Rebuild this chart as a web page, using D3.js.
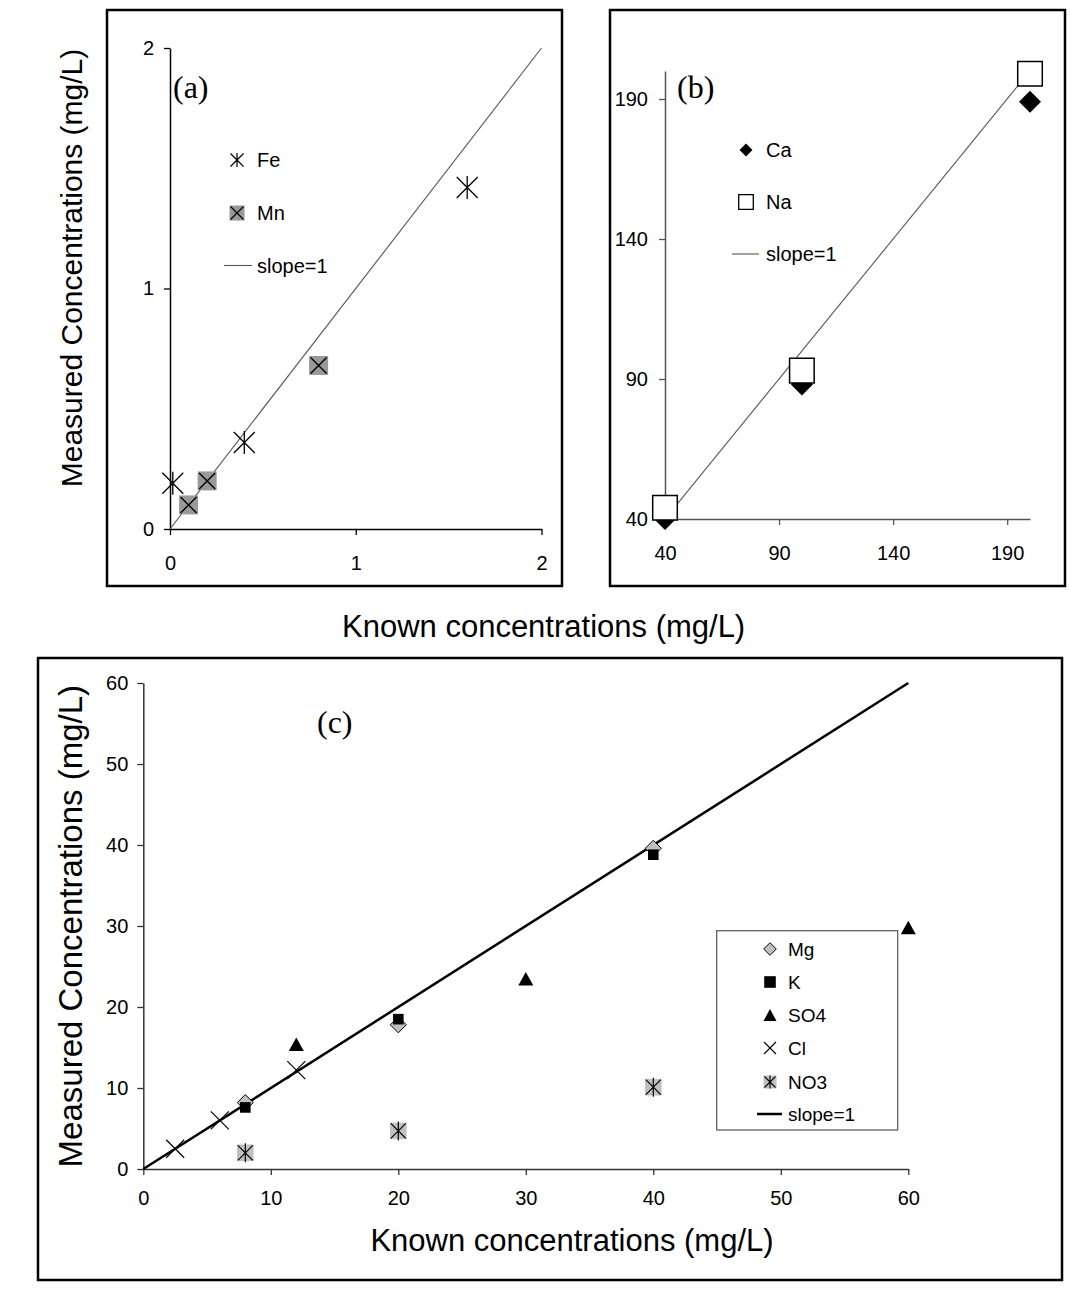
<!DOCTYPE html>
<html>
<head>
<meta charset="utf-8">
<script src="https://cdn.jsdelivr.net/npm/d3@7"></script>
<style>
  body { margin: 0; background: #fff; }
  text { font-family: "Liberation Sans", Arial, sans-serif; fill: #000; }
  .serif { font-family: "Liberation Serif", "Times New Roman", serif; }
</style>
</head>
<body>
<svg id="chart" width="1071" height="1289"></svg>
<script>
// ---- Panel (a): Fe and Mn ----
const feKnown = [0.015, 0.4, 1.6];
const feMeasured = [0.19, 0.36, 1.42];
const mnKnown = [0.1, 0.2, 0.8];
const mnMeasured = [0.1, 0.2, 0.68];
const slopeA = [0, 2];
const ticksA = [0, 1, 2];

// ---- Panel (b): Ca and Na ----
const caKnown = [40, 100, 200];
const caMeasured = [40, 88, 189];
const naKnown = [40, 100, 200];
const naMeasured = [44, 93, 199];
const slopeB = [40, 200];
const ticksB = [40, 90, 140, 190];

// ---- Panel (c): anions and minor cations ----
const mgKnown = [8, 20, 40];
const mgMeasured = [8.2, 17.8, 39.6];
const kKnown = [8, 20, 40];
const kMeasured = [7.6, 18.5, 38.8];
const so4Known = [12, 30, 60];
const so4Measured = [15.4, 23.5, 29.8];
const clKnown = [2.5, 6, 12];
const clMeasured = [2.5, 6, 12.2];
const no3Known = [8, 20, 40];
const no3Measured = [2.0, 4.7, 10.1];
const slopeC = [0, 60];
const ticksC = [0, 10, 20, 30, 40, 50, 60];

const svg = d3.select("#chart");

// ---- marker path builders ----
const squarePath = h => `M${-h},${-h}h${2*h}v${2*h}h${-2*h}Z`;
const diamondPath = h => `M0,${-h}L${h},0L0,${h}L${-h},0Z`;
const trianglePath = (w, h) => `M0,${-h/2}L${w/2},${h/2}L${-w/2},${h/2}Z`;
const crossPath = h => `M${-h},${-h}L${h},${h}M${-h},${h}L${h},${-h}`;
const starPath = (hx, hv) => crossPath(hx) + `M0,${-hv}L0,${hv}`;

function frame(x, y, w, h) {
  svg.append("rect").attr("x", x).attr("y", y).attr("width", w).attr("height", h)
    .attr("fill", "none").attr("stroke", "#000").attr("stroke-width", 2.5);
}

function axes(xs, ys, xt, yt, color, padX, padY) {
  const gx = svg.append("g").attr("transform", `translate(0,${ys.range()[0]})`)
    .call(d3.axisBottom(xs).tickValues(xt).tickFormat(d3.format("d"))
      .tickSize(6).tickSizeOuter(0).tickPadding(padX));
  const gy = svg.append("g").attr("transform", `translate(${xs.range()[0]},0)`)
    .call(d3.axisLeft(ys).tickValues(yt).tickFormat(d3.format("d"))
      .tickSize(6).tickSizeOuter(0).tickPadding(padY));
  [gx, gy].forEach(g => {
    g.select(".domain").attr("stroke", color).attr("stroke-width", 1.5);
    g.selectAll(".tick line").attr("stroke", color).attr("stroke-width", 1.3);
    g.selectAll(".tick text").attr("font-size", 20)
      .attr("font-family", "'Liberation Sans', Arial, sans-serif").attr("fill", "#000");
  });
}

function points(known, measured, xs, ys) {
  return d3.zip(known, measured).map(([k, m]) => [xs(k), ys(m)]);
}

function slopeLine(vals, xs, ys, color, width) {
  svg.append("path")
    .attr("d", d3.line()(vals.map(v => [xs(v), ys(v)])))
    .attr("fill", "none").attr("stroke", color).attr("stroke-width", width);
}

function legendText(x, y, label, size) {
  svg.append("text").attr("x", x).attr("y", y + size * 0.36)
    .attr("font-size", size).text(label);
}

// ================= Panel (a) =================
frame(107, 10, 455, 576);
const xA = d3.scaleLinear().domain([0, 2]).range([170, 541.5]);
const yA = d3.scaleLinear().domain([0, 2]).range([529, 48]);
axes(xA, yA, ticksA, ticksA, "#000", 21, 10);
slopeLine(slopeA, xA, yA, "#555", 1.1);

// Mn: grey square with a cross
svg.append("g").selectAll("g").data(points(mnKnown, mnMeasured, xA, yA)).join("g")
  .attr("transform", d => `translate(${d[0]},${d[1]})`)
  .call(g => {
    g.append("path").attr("d", squarePath(9.5)).attr("fill", "#999");
    g.append("path").attr("d", crossPath(8)).attr("stroke", "#000").attr("stroke-width", 1.4);
  });
// Fe: star
svg.append("g").selectAll("path").data(points(feKnown, feMeasured, xA, yA)).join("path")
  .attr("transform", d => `translate(${d[0]},${d[1]})`)
  .attr("d", starPath(10.5, 11.5)).attr("fill", "none")
  .attr("stroke", "#000").attr("stroke-width", 1.3);

svg.append("text").attr("class", "serif").attr("x", 173).attr("y", 98)
  .attr("font-size", 32).text("(a)");

// legend (a)
svg.append("path").attr("transform", "translate(237,160)").attr("d", starPath(6.5, 7))
  .attr("stroke", "#000").attr("stroke-width", 1.2).attr("fill", "none");
legendText(257, 160, "Fe", 20);
svg.append("path").attr("transform", "translate(237,213)").attr("d", squarePath(7.5)).attr("fill", "#999");
svg.append("path").attr("transform", "translate(237,213)").attr("d", crossPath(6.5))
  .attr("stroke", "#000").attr("stroke-width", 1.2);
legendText(257, 213, "Mn", 20);
svg.append("line").attr("x1", 224).attr("x2", 252).attr("y1", 265.5).attr("y2", 265.5)
  .attr("stroke", "#555").attr("stroke-width", 1.1);
legendText(257, 265.5, "slope=1", 20);

// ================= Panel (b) =================
frame(610, 10, 455, 576);
const xB = d3.scaleLinear().domain([40, 200]).range([665, 1030]);
const yB = d3.scaleLinear().domain([40, 200]).range([519, 71]);
axes(xB, yB, ticksB, ticksB, "#555", 21, 11);
slopeLine(slopeB, xB, yB, "#555", 1.1);

svg.append("g").selectAll("path").data(points(caKnown, caMeasured, xB, yB)).join("path")
  .attr("transform", d => `translate(${d[0]},${d[1]})`)
  .attr("d", diamondPath(11)).attr("fill", "#000");
svg.append("g").selectAll("path").data(points(naKnown, naMeasured, xB, yB)).join("path")
  .attr("transform", d => `translate(${d[0]},${d[1]})`)
  .attr("d", squarePath(12.3)).attr("fill", "#fff").attr("stroke", "#000").attr("stroke-width", 1.5);

svg.append("text").attr("class", "serif").attr("x", 677).attr("y", 98)
  .attr("font-size", 32).text("(b)");

// legend (b)
svg.append("path").attr("transform", "translate(746,150)").attr("d", diamondPath(6.5)).attr("fill", "#000");
legendText(766, 150, "Ca", 20);
svg.append("path").attr("transform", "translate(746,202)").attr("d", squarePath(7.3))
  .attr("fill", "#fff").attr("stroke", "#000").attr("stroke-width", 1.3);
legendText(766, 202, "Na", 20);
svg.append("line").attr("x1", 732).attr("x2", 759).attr("y1", 254).attr("y2", 254)
  .attr("stroke", "#555").attr("stroke-width", 1.1);
legendText(766, 254, "slope=1", 20);

// shared titles for (a) and (b)
svg.append("text").attr("transform", "translate(82,268) rotate(-90)")
  .attr("text-anchor", "middle").attr("font-size", 30).text("Measured Concentrations (mg/L)");
svg.append("text").attr("x", 342).attr("y", 637)
  .attr("font-size", 31).text("Known concentrations (mg/L)");

// ================= Panel (c) =================
frame(38, 658, 1024, 622);
const xC = d3.scaleLinear().domain([0, 60]).range([143.3, 908.3]);
const yC = d3.scaleLinear().domain([0, 60]).range([1169, 683]);
axes(xC, yC, ticksC, ticksC, "#333", 16, 9);
slopeLine(slopeC, xC, yC, "#000", 2.5);

// Mg: grey diamond
svg.append("g").selectAll("path").data(points(mgKnown, mgMeasured, xC, yC)).join("path")
  .attr("transform", d => `translate(${d[0]},${d[1]})`)
  .attr("d", diamondPath(8)).attr("fill", "#c0c0c0").attr("stroke", "#000").attr("stroke-width", 1);
// K: black square
svg.append("g").selectAll("path").data(points(kKnown, kMeasured, xC, yC)).join("path")
  .attr("transform", d => `translate(${d[0]},${d[1]})`)
  .attr("d", squarePath(5.3)).attr("fill", "#000");
// SO4: black triangle
svg.append("g").selectAll("path").data(points(so4Known, so4Measured, xC, yC)).join("path")
  .attr("transform", d => `translate(${d[0]},${d[1]})`)
  .attr("d", trianglePath(15, 13.5)).attr("fill", "#000");
// Cl: cross
svg.append("g").selectAll("path").data(points(clKnown, clMeasured, xC, yC)).join("path")
  .attr("transform", d => `translate(${d[0]},${d[1]})`)
  .attr("d", crossPath(9)).attr("stroke", "#000").attr("stroke-width", 1.2);
// NO3: light grey square with star
svg.append("g").selectAll("g").data(points(no3Known, no3Measured, xC, yC)).join("g")
  .attr("transform", d => `translate(${d[0]},${d[1]})`)
  .call(g => {
    g.append("path").attr("d", squarePath(8.3)).attr("fill", "#c0c0c0");
    g.append("path").attr("d", starPath(7.5, 9.5)).attr("stroke", "#000").attr("stroke-width", 1.2);
  });

svg.append("text").attr("class", "serif").attr("x", 317).attr("y", 733)
  .attr("font-size", 32).text("(c)");

// legend (c)
svg.append("rect").attr("x", 716.7).attr("y", 930.7).attr("width", 181).attr("height", 199.3)
  .attr("fill", "#fff").attr("stroke", "#555").attr("stroke-width", 1.2);
const lx = 770, tx = 788, fs = 19;
svg.append("path").attr("transform", `translate(${lx},949)`).attr("d", diamondPath(6.3))
  .attr("fill", "#c0c0c0").attr("stroke", "#000").attr("stroke-width", 1);
legendText(tx, 949, "Mg", fs);
svg.append("path").attr("transform", `translate(${lx},982)`).attr("d", squarePath(5.8)).attr("fill", "#000");
legendText(tx, 982, "K", fs);
svg.append("path").attr("transform", `translate(${lx},1015)`).attr("d", trianglePath(13, 12)).attr("fill", "#000");
legendText(tx, 1015, "SO4", fs);
svg.append("path").attr("transform", `translate(${lx},1048)`).attr("d", crossPath(6))
  .attr("stroke", "#000").attr("stroke-width", 1.1);
legendText(tx, 1048, "Cl", fs);
svg.append("path").attr("transform", `translate(${lx},1082)`).attr("d", squarePath(6.5)).attr("fill", "#c0c0c0");
svg.append("path").attr("transform", `translate(${lx},1082)`).attr("d", starPath(5.5, 6.5))
  .attr("stroke", "#000").attr("stroke-width", 1.1);
legendText(tx, 1082, "NO3", fs);
svg.append("line").attr("x1", 757).attr("x2", 782).attr("y1", 1114).attr("y2", 1114)
  .attr("stroke", "#000").attr("stroke-width", 2.5);
legendText(tx, 1114, "slope=1", fs);

// titles for (c)
svg.append("text").attr("transform", "translate(82,685) rotate(-90)")
  .attr("text-anchor", "end").attr("font-size", 33).text("Measured Concentrations (mg/L)");
svg.append("text").attr("x", 572).attr("y", 1251).attr("text-anchor", "middle")
  .attr("font-size", 31).text("Known concentrations (mg/L)");
</script>
</body>
</html>
